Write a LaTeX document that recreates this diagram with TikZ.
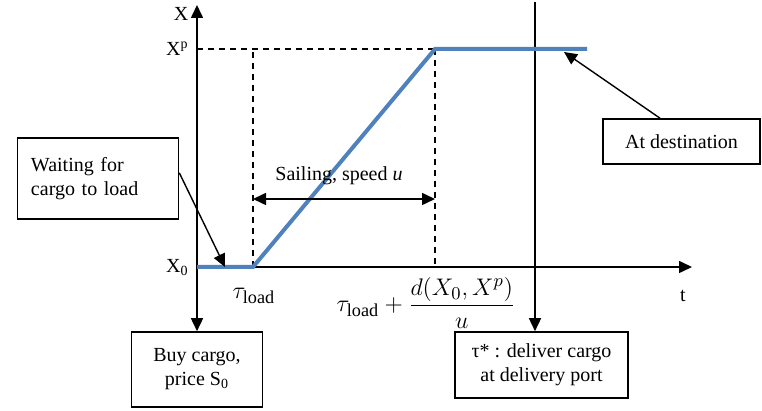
\documentclass[tikz,border=0pt]{standalone}
\usepackage{amsmath}
\usepackage{fontspec}
\setmainfont{Liberation Serif}
\usepackage{tikz}
\usetikzlibrary{positioning,arrows.meta,calc}
\definecolor{pathblue}{RGB}{79,129,189}
\tikzset{
    box/.style={
        rectangle,
        draw=black,
        fill=white,
        line width=0.8pt,
        inner sep=3pt,
        align=center,
        font=\fontsize{10}{12}\selectfont
    },
    lbl/.style={
        inner sep=1pt,
        font=\fontsize{10}{12}\selectfont
    },
    axis/.style={-{Triangle[length=6.5pt,width=6pt]},line width=0.8pt},
    arr/.style={-{Triangle[length=6.5pt,width=6pt]},line width=0.7pt},
    darr/.style={{Triangle[length=6.5pt,width=6pt]}-{Triangle[length=6.5pt,width=6pt]},line width=0.8pt},
    guide/.style={line width=0.7pt,dash pattern=on 3pt off 2.5pt},
    route/.style={pathblue,line width=2pt}
}

\begin{document}
\begin{tikzpicture}[x=0.5pt,y=-0.5pt]
\useasboundingbox (0,0) rectangle (762,411);

% axes
\coordinate (O) at (197,267);
\coordinate (ytop) at (197,5);
\coordinate (xend) at (692,267);

% route of the ship
\coordinate (tl) at (253,267);
\coordinate (tp) at (435,49);
\coordinate (pend) at (587,49);
\coordinate (deltop) at (535,2);

\node[box,minimum width=65.5pt,minimum height=37.5pt] (buy) at (197,369.5) {Buy cargo,\\price S\textsubscript{0}};
\node[box,minimum width=86.5pt,minimum height=33pt] (deliver) at (541.5,365) {τ* : deliver cargo\\at delivery port};
\node[box,minimum width=80.5pt,minimum height=40.5pt,text width=67pt,align=left,inner xsep=6.5pt] (wait) at (98,178.5) {Waiting for\\cargo to load};
\node[box,minimum width=78.5pt,minimum height=22.5pt] (dest) at (681.5,141.5) {At destination};

\draw[axis] (O) -- (xend);
\draw[axis] (O) -- (ytop);
\draw[axis] (O) -- (O |- buy.north);
\draw[axis] (deltop) -- (deltop |- deliver.north);

\draw[guide] (O |- tp) -- (tp);
\draw[guide] (tl) -- (tl |- tp);
\draw[guide] (tp) -- (tp |- O);

\draw[route] (O) -- (tl) -- (tp) -- (pend);

% sailing span
\coordinate (sailL) at (253,199);
\draw[darr] (sailL) -- (sailL -| tp);
\node[lbl] (sail) at (339,176) {Sailing, speed \textit{u}};

% labels
\node[lbl] (xlab) at (181,14) {X};
\node[lbl,anchor=east] (xplab) at (191,49) {X\textsuperscript{p}};
\node[lbl,anchor=east] (x0lab) at (191,268) {X\textsubscript{0}};
\node[lbl] (tlab) at (683,296) {t};
\node[lbl,font=\fontsize{13}{15}\selectfont] (tload) at (254,296) {$\tau_{\mathrm{load}}$};
\node[lbl,font=\fontsize{13}{15}\selectfont] (tarr) at (426,303) {$\tau_{\mathrm{load}}+\dfrac{d(X_0,X^p)}{u}$};

% callouts
\coordinate (waittip) at ($(O)!0.5!(tl)$);
\draw[arr] (wait.4) -- (waittip);
\coordinate (desttip) at (564,52);
\draw[arr] ([xshift=-10.75pt]dest.north) -- (desttip);
\end{tikzpicture}
\end{document}
